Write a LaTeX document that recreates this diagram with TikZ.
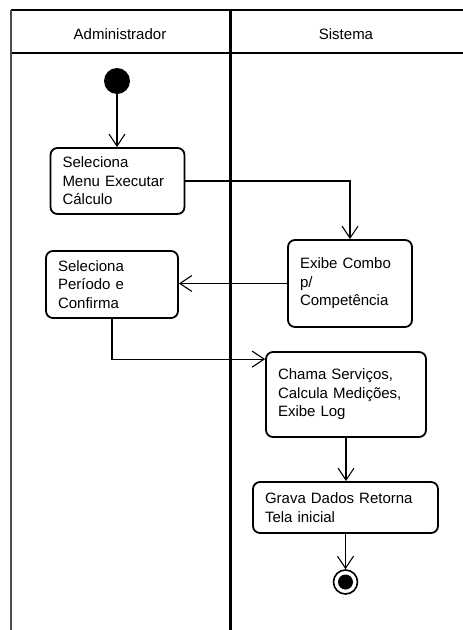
\documentclass[tikz,border=0pt]{standalone}
\usepackage{fontspec}
\setmainfont{Liberation Sans}
\usetikzlibrary{arrows.meta}
\tikzstyle{act-box} = [draw, line width=1.8pt, rounded corners=7pt,
    rectangle, inner xsep=12pt, inner ysep=0pt, align=left,
    font=\fontsize{15}{18.5}\selectfont]
\tikzstyle{lane-title} = [font=\fontsize{15}{18}\selectfont]
\tikzstyle{flow} = [line width=1.1pt,
    -{Straight Barb[length=12pt,width=16pt,line width=1.1pt]}]
\tikzstyle{start-dot} = [circle, fill=black, minimum size=26pt, inner sep=0pt]
\tikzstyle{end-dot} = [circle, draw, line width=1.6pt, minimum size=24pt,
    inner sep=0pt, path picture={\fill (path picture bounding box.center) circle (7.5pt);}]

\begin{document}
\begin{tikzpicture}[x=1pt, y=-1pt]
\useasboundingbox (0,0) rectangle (463,630);
% raias
\draw[line width=2pt] (11,10) -- (463,10);
\draw[line width=2pt] (11,53) -- (463,53);
\draw[line width=2pt, black!70] (11,10) -- (11,630);
\draw[line width=3pt] (230,10) -- (230,630);
\node[lane-title] (adm) at (120,34) {Administrador};
\node[lane-title] (sis) at (346,34) {Sistema};
% atividades
\node[start-dot] (inicio) at (117,81) {};
\node[act-box, text width=110pt, minimum height=66pt] (menu) at (117.5,181) {Seleciona\\Menu Executar\\Cálculo};
\node[act-box, text width=100pt, minimum height=87pt] (combo) at (350,283.5) {Exibe Combo\\p/\\Competência};
\node[act-box, text width=108pt, minimum height=67pt] (periodo) at (112,284.5) {Seleciona\\Período e\\Confirma};
\node[act-box, text width=136pt, minimum height=85pt] (calcula) at (346,394.5) {Chama Serviços,\\Calcula Medições,\\Exibe Log};
\node[act-box, text width=161pt, minimum height=51pt] (grava) at (345.5,507.5) {Grava Dados Retorna\\Tela inicial};
\node[end-dot] (fim) at (345.5,582) {};
% fluxos
\draw[flow] (inicio) -- (inicio |- menu.north);
\draw[flow] (menu.east) -| (combo.north);
\draw[flow] (combo.west) -- (combo.west -| periodo.east);
\draw[flow] (periodo.south) |- ([yshift=-8pt]calcula.north west);
\draw[flow] (calcula.south) -- (calcula.south |- grava.north);
\draw[flow] (grava.south) -- (fim.north);
\end{tikzpicture}
\end{document}
